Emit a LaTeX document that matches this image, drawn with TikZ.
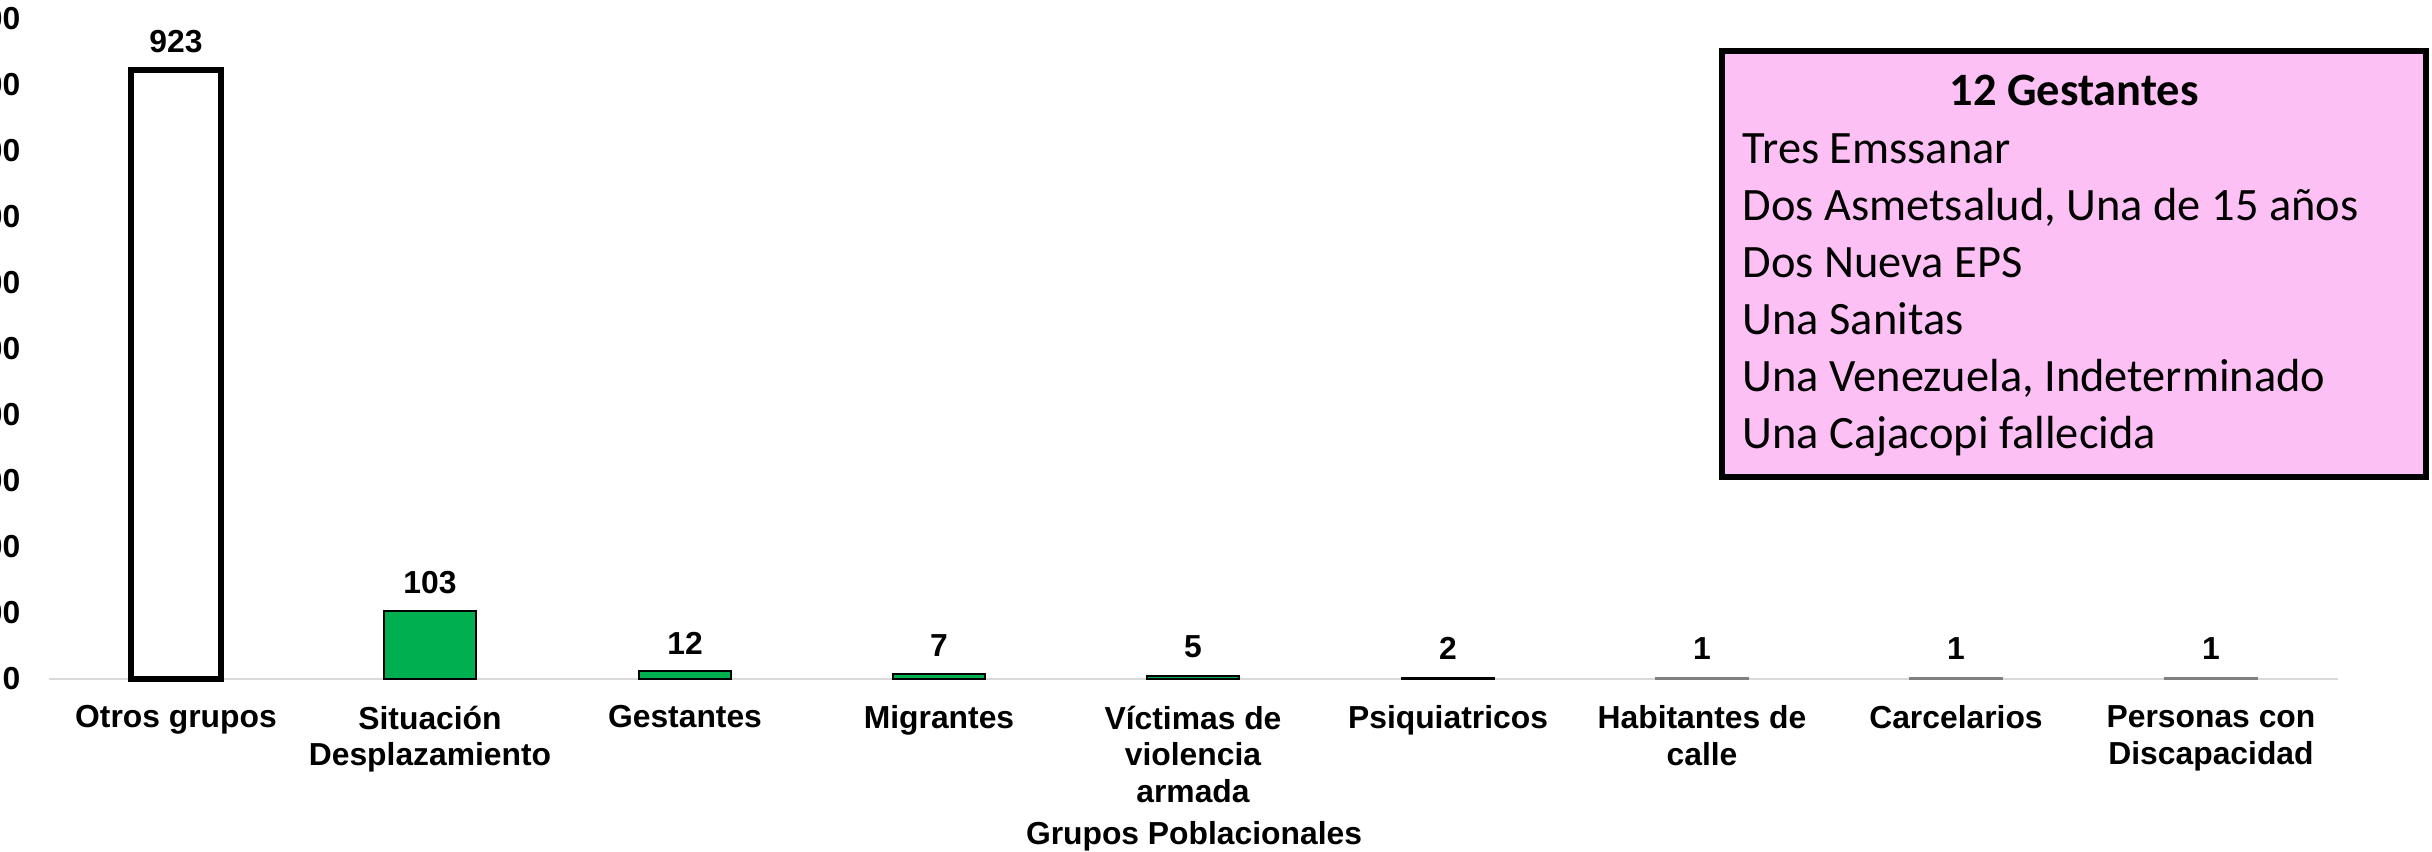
\documentclass[tikz,border=0pt]{standalone}
\usepackage{fontspec}
\setmainfont{Liberation Sans}
\newfontfamily\boxfont{Carlito}
\usepackage{tikz}
\usetikzlibrary{positioning}
\definecolor{barGreen}{RGB}{0,176,80}
\definecolor{axisGray}{RGB}{217,217,217}
\definecolor{notePink}{RGB}{252,192,244}
\newcommand{\chartfont}{\fontsize{9.05pt}{10.5pt}\selectfont\bfseries}
\tikzset{
  tick/.style={anchor=east, inner sep=0pt, font=\chartfont},
  val/.style={anchor=base, inner sep=0pt, font=\chartfont},
  cat/.style={anchor=north, inner sep=0pt, align=center, font=\chartfont},
  gbar/.style={fill=barGreen, draw=black, line width=0.45pt},
  obar/.style={fill=white, draw=black, line width=1.7pt},
  axisline/.style={draw=axisGray, line width=0.85pt},
  notebox/.style={rectangle, draw=black, fill=notePink, line width=1.7pt, inner sep=0pt},
  notetxt/.style={inner sep=0pt, font=\boxfont\fontsize{13.2pt}{16.2pt}\selectfont}
}
\begin{document}
\begin{tikzpicture}[x=0.01cm, y=-0.01cm]
    \useasboundingbox (0,0) rectangle (2432,852);

    % Value axis labels (cut off at the left edge)
    \node[tick] (t0) at (21,679) {0};
    \node[tick] (t1) at (21,613) {100};
    \node[tick] (t2) at (21,547) {200};
    \node[tick] (t3) at (21,481) {300};
    \node[tick] (t4) at (21,415) {400};
    \node[tick] (t5) at (21,349) {500};
    \node[tick] (t6) at (21,283) {600};
    \node[tick] (t7) at (21,217) {700};
    \node[tick] (t8) at (21,151) {800};
    \node[tick] (t9) at (21,85) {900};
    \node[tick] (t10) at (21,19) {1000};

    % Category axis
    \coordinate (ax0) at (49,679);
    \coordinate (ax1) at (2338,679);
    \draw[axisline] (ax0) -- (ax1);

    % Bars
    \draw[obar] (131,679) rectangle (221,70);
    \draw[gbar] (384,679) rectangle (476,611);
    \draw[gbar] (639,679) rectangle (731,671);
    \draw[gbar] (893,679) rectangle (985,674);
    \draw[gbar] (1147,679) rectangle (1239,676);
    \draw[black, line width=0.45pt] (1402,678) rectangle (1494,679);
    \draw[gray, line width=0.6pt] (1656,678) rectangle (1748,679);
    \draw[gray, line width=0.6pt] (1910,678) rectangle (2002,679);
    \draw[gray, line width=0.6pt] (2165,678) rectangle (2257,679);

    % Data labels
    \node[val] (v1) at (176,53) {923};
    \node[val] (v2) at (430,594) {103};
    \node[val] (v3) at (685,655) {12};
    \node[val] (v4) at (939,657) {7};
    \node[val] (v5) at (1193,658) {5};
    \node[val] (v6) at (1448,660) {2};
    \node[val] (v7) at (1702,660) {1};
    \node[val] (v8) at (1956,660) {1};
    \node[val] (v9) at (2211,660) {1};

    % Category labels
    \node[cat] (c1) at (176,705) {Otros grupos};
    \node[cat] (c2) at (430,705) {Situación\\Desplazamiento};
    \node[cat] (c3) at (685,705) {Gestantes};
    \node[cat] (c4) at (939,705) {Migrantes};
    \node[cat] (c5) at (1193,705) {Víctimas de\\violencia\\armada};
    \node[cat] (c6) at (1448,705) {Psiquiatricos};
    \node[cat] (c7) at (1702,705) {Habitantes de\\calle};
    \node[cat] (c8) at (1956,705) {Carcelarios};
    \node[cat] (c9) at (2211,705) {Personas con\\Discapacidad};
    \node[val] (xtitle) at (1194,845) {Grupos Poblacionales};

    % Note box
    \node[notebox, minimum width=704*0.01cm, minimum height=426*0.01cm] (gbox) at (2074,264) {};
    \node[notetxt, anchor=base, font=\boxfont\fontsize{13.2pt}{16.2pt}\selectfont\bfseries] (gtitle) at (2074,106) {12 Gestantes};
    \node[notetxt, anchor=north west, align=left] (glist) at (1742,133) {Tres Emssanar\\
      Dos Asmetsalud, Una de 15 años\\
      Dos Nueva EPS\\
      Una Sanitas\\
      Una Venezuela, Indeterminado\\
      Una Cajacopi fallecida};
\end{tikzpicture}
\end{document}
